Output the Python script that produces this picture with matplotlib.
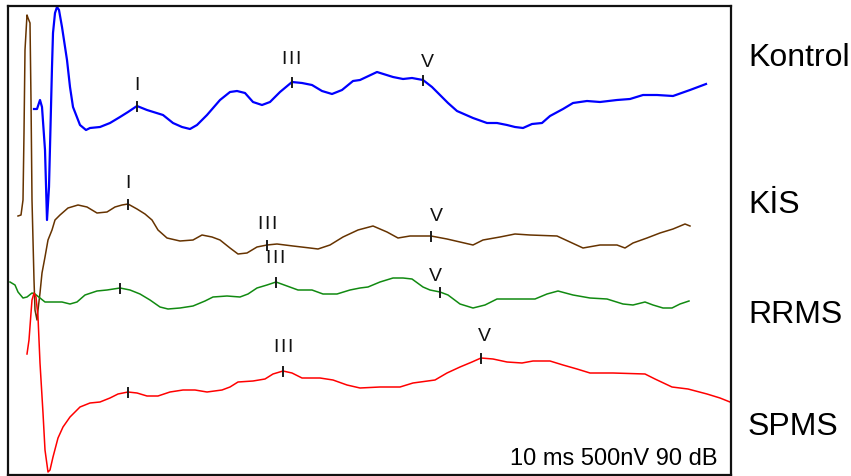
import numpy as np
import matplotlib
matplotlib.use('Agg')
import matplotlib.pyplot as plt

plt.rcParams['font.family'] = ['Liberation Sans', 'DejaVu Sans']

# ABR traces, x = sample number, y = amplitude (arbitrary units) around each baseline
kontrol_x = [26, 29, 32, 34, 37, 39, 41, 44, 45, 47, 49, 51, 54, 59, 62, 65, 72, 78, 82, 92,
             102, 112, 120, 129, 139, 155, 165, 174, 182, 189, 199, 212, 222, 229, 237, 245,
             254, 262, 272, 284, 294, 304, 314, 324, 334, 345, 352, 369, 385, 395, 404, 415,
             424, 434, 440, 449, 465, 479, 489, 499, 507, 515, 524, 534, 542, 555, 565, 579,
             592, 609, 622, 635, 649, 665, 682, 698]
kontrol_y = [1, 1, 10, 3, -40, -110, -77, 43, 77, 97, 103, 100, 83, 50, 23, 3, -15, -20, -18, -17,
             -13, -7, -2, 4, 0, -5, -13, -17, -19, -15, -5, 10, 18, 19, 17, 8,
             5, 8, 18, 28, 27, 25, 19, 16, 20, 29, 30, 38, 33, 31, 32, 30,
             23, 13, 7, -1, -8, -13, -13, -15, -17, -18, -14, -13, -6, 1, 7, 9,
             8, 10, 11, 15, 15, 14, 20, 26]

kis_x = [10, 13, 15, 16, 17, 19, 20, 22, 23, 24, 25, 26, 27, 29, 30, 32, 34, 37, 40, 44,
         47, 52, 60, 70, 79, 89, 99, 107, 114, 120, 129, 137, 144, 150, 159, 172, 185, 194,
         204, 212, 222, 230, 239, 249, 259, 269, 285, 302, 310, 322, 335, 350, 365, 379, 390,
         402, 423, 439, 452, 465, 475, 492, 507, 522, 549, 562, 575, 592, 609, 617, 625, 639,
         652, 665, 677, 682]
kis_y = [14, 15, 30, 97, 180, 215, 212, 207, 130, 30, -10, -50, -80, -90, -80, -63, -43, -27, -10, 0,
         10, 15, 22, 25, 23, 17, 18, 23, 25, 26, 21, 16, 10, 0, -8, -11, -10, -5,
         -7, -10, -18, -24, -23, -17, -15, -14, -16, -18, -19, -15, -7, 0, 4, -2, -8,
         -6, -6, -9, -12, -15, -10, -7, -4, -5, -6, -12, -18, -15, -15, -18, -13, -8,
         -3, 1, 6, 4]

rrms_x = [2, 7, 10, 15, 19, 24, 27, 32, 37, 45, 54, 62, 69, 77, 89, 99, 112, 122, 132, 142,
          152, 160, 172, 185, 197, 205, 219, 232, 240, 249, 259, 268, 279, 290, 304, 315,
          329, 342, 352, 360, 372, 385, 395, 404, 415, 422, 432, 440, 452, 465, 477, 489,
          527, 539, 550, 565, 582, 599, 615, 625, 637, 645, 655, 664, 672, 681]
rrms_y = [13, 10, 3, -3, -2, 2, 1, -3, -7, -7, -7, -9, -7, 0, 4, 5, 7, 5, 1, -5,
          -12, -14, -13, -11, -6, -2, -1, -2, 1, 7, 10, 13, 9, 5, 5, 1,
          1, 5, 7, 8, 13, 17, 17, 16, 8, 5, 3, 0, -9, -13, -10, -4,
          -4, 1, 4, 0, -3, -4, -9, -10, -7, -10, -13, -13, -9, -6]

spms_x = [19, 21, 23, 24, 26, 28, 30, 32, 35, 37, 40, 42, 45, 50, 55, 62, 72, 82, 92, 102,
          110, 120, 129, 139, 150, 162, 175, 187, 199, 214, 222, 230, 245, 257, 265, 275,
          284, 294, 312, 325, 339, 352, 372, 392, 405, 427, 439, 452, 464, 473, 485, 499,
          514, 525, 542, 555, 569, 582, 605, 637, 647, 664, 680, 699, 712, 722]
spms_y = [36, 50, 77, 90, 97, 93, 73, 27, -23, -60, -82, -80, -67, -48, -37, -27, -17, -13, -12, -8,
          -4, -2, -3, -6, -6, -2, 0, 0, -2, 0, 3, 8, 9, 11, 16, 19,
          17, 12, 12, 10, 5, 2, 3, 3, 7, 10, 17, 23, 28, 32, 31, 28,
          27, 29, 29, 25, 21, 17, 17, 16, 11, 3, 1, -4, -8, -12]

group_names = ['Kontrol', 'KİS', 'RRMS', 'SPMS']
baselines = [110, 230, 295, 390]
colors = ['#0000ff', '#663300', '#118a11', '#ff0000']
widths = [1.6, 1.1, 1.1, 1.1]

# wave peaks: (label, sample); empty label = tick only
peaks = [
    [('I', 129), ('III', 284), ('V', 415)],
    [('I', 120), ('III', 259), ('V', 423)],
    [('', 112), ('III', 268), ('V', 432)],
    [('', 120), ('III', 275), ('V', 473)],
]
label_gaps = [[8, 10, 5], [8, 8, 7], [0, 11, 3], [0, 11, 9]]
label_dx = [[0, 0, 4], [0, 1, 5], [0, 0, -5], [0, 1, 3]]

traces = [(kontrol_x, kontrol_y), (kis_x, kis_y), (rrms_x, rrms_y), (spms_x, spms_y)]

fig = plt.figure(figsize=(8.51, 4.76), dpi=100)
ax = fig.add_axes([8 / 851, 1 / 476, 723 / 851, 469 / 476])
ax.set_xlim(0, 723)
ax.set_ylim(-475, -6)

label_y = [58, 205, 315, 427]
tick_half = 4.5

for i, (tx, ty) in enumerate(traces):
    tx = np.array(tx)
    yy = -baselines[i] + np.array(ty)
    ax.plot(tx, yy, color=colors[i], lw=widths[i], solid_joinstyle='round')
    for j, (name, px) in enumerate(peaks[i]):
        py = np.interp(px, tx, yy)
        ax.plot([px, px], [py - tick_half, py + tick_half], color='#1a1a1a', lw=1.4)
        if name:
            # roman numerals are drawn a bit spaced out in the original
            ax.text(px + label_dx[i][j], py + tick_half + label_gaps[i][j], '\u200a'.join(name),
                    ha='center', va='bottom', fontsize=14, color='#111111')
    fig.text(748 / 851, 1 - label_y[i] / 476, group_names[i], ha='left', va='center',
             fontsize=23, color='black')

ax.text(0.982, 0.021, '10 ms 500nV 90 dB', transform=ax.transAxes, ha='right',
        va='baseline', fontsize=17)

ax.set_xticks([])
ax.set_yticks([])
for sp in ax.spines.values():
    sp.set_linewidth(1.6)
    sp.set_color('#111111')

fig.savefig('out.png', dpi=100)
